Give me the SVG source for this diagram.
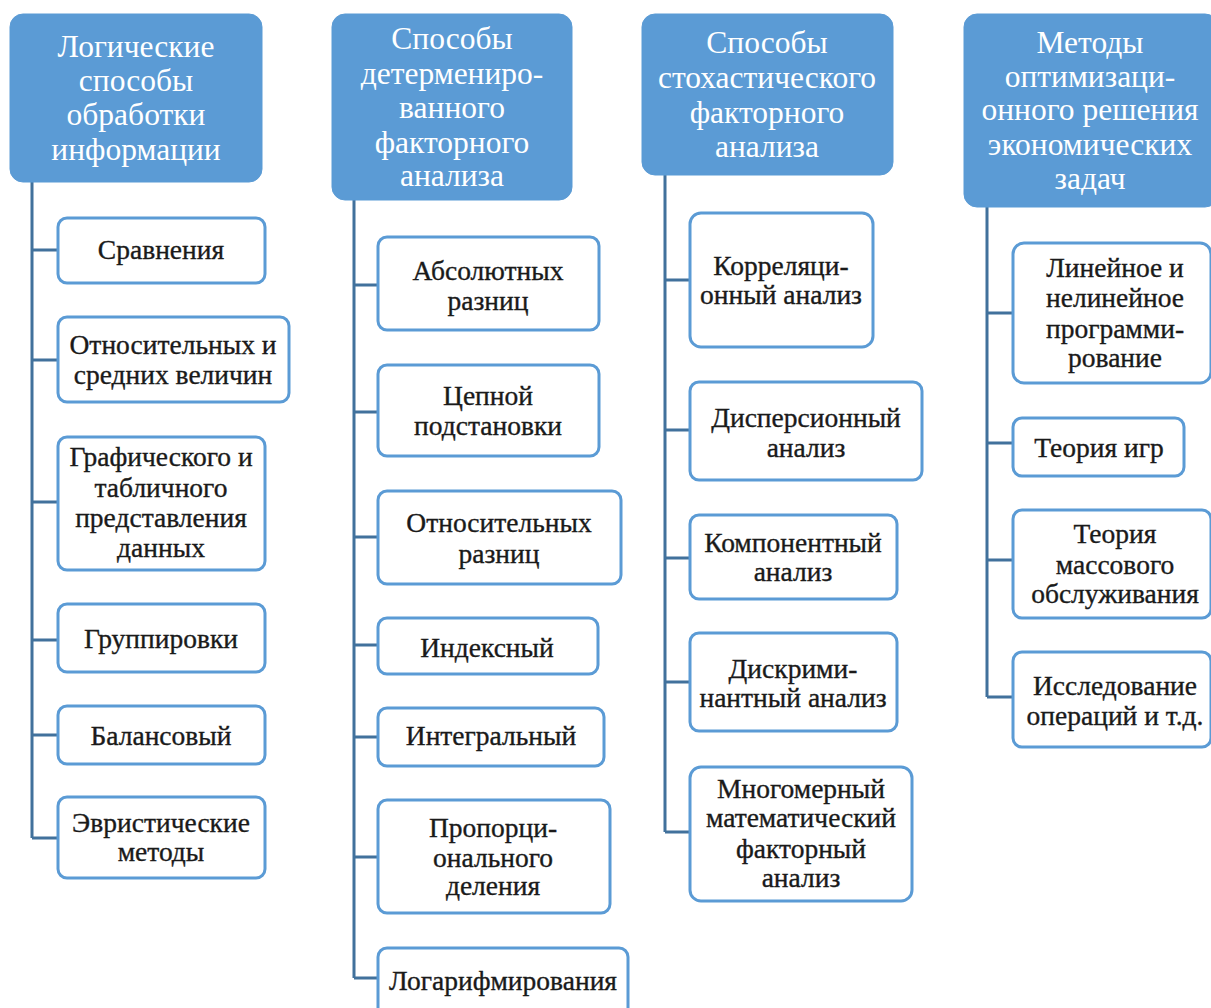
<svg xmlns="http://www.w3.org/2000/svg" width="1211" height="1008" viewBox="0 0 1211 1008">
<style>
.hdr{fill:#5b9bd5;stroke:#5b9bd5;stroke-width:1}
.ht{font-family:"Liberation Serif",serif;font-size:31.5px;fill:#ffffff;text-anchor:middle}
.box{fill:#ffffff;stroke:#5b9bd5;stroke-width:3}
.t{font-family:"Liberation Serif",serif;font-size:27.5px;fill:#1a1a1a;text-anchor:middle;stroke:#1a1a1a;stroke-width:0.35}
.con{fill:none;stroke:#41719c;stroke-width:3}
</style>
<rect width="1211" height="1008" fill="#ffffff"/>
<g id="connectors">
<path class="con" d="M32 182V838M32 250H58M32 360H58M32 502H58M32 640H58M32 735H58M32 838H58"/>
<path class="con" d="M354 200V978M354 285H378M354 412H378M354 537H378M354 645H378M354 737H378M354 857H378M354 978H378"/>
<path class="con" d="M665 175V832M665 280H690M665 430H690M665 558H690M665 682H690M665 832H690"/>
<path class="con" d="M987 207V697M987 313H1013M987 443H1013M987 560H1013M987 697H1013"/>
</g>
<g id="h1"><rect class="hdr" x="10" y="14" width="252" height="168" rx="13"/>
<text class="ht" x="136" y="57">Логические</text><text class="ht" x="136" y="91">способы</text><text class="ht" x="136" y="125">обработки</text><text class="ht" x="136" y="160">информации</text></g>
<g id="h2"><rect class="hdr" x="332" y="14" width="240" height="186" rx="13"/>
<text class="ht" x="452" y="49">Способы</text><text class="ht" x="452" y="84">детермениро-</text><text class="ht" x="452" y="118">ванного</text><text class="ht" x="452" y="153">факторного</text><text class="ht" x="452" y="186">анализа</text></g>
<g id="h3"><rect class="hdr" x="642" y="14" width="251" height="161" rx="13"/>
<text class="ht" x="767" y="53">Способы</text><text class="ht" x="767" y="88">стохастического</text><text class="ht" x="767" y="123">факторного</text><text class="ht" x="767" y="157">анализа</text></g>
<g id="h4"><rect class="hdr" x="964" y="14" width="254" height="193" rx="13"/>
<text class="ht" x="1090" y="53">Методы</text><text class="ht" x="1090" y="87">оптимизаци-</text><text class="ht" x="1090" y="120">онного решения</text><text class="ht" x="1090" y="155">экономических</text><text class="ht" x="1090" y="189">задач</text></g>

<g id="c1-1"><rect class="box" x="58" y="218" width="207" height="65" rx="9"/><text class="t" x="161" y="259">Сравнения</text></g>
<g id="c1-2"><rect class="box" x="58" y="317" width="231" height="85" rx="9"/><text class="t" x="173" y="354">Относительных и</text><text class="t" x="173" y="384">средних величин</text></g>
<g id="c1-3"><rect class="box" x="58" y="437" width="207" height="133" rx="9"/><text class="t" x="161" y="466">Графического и</text><text class="t" x="161" y="497">табличного</text><text class="t" x="161" y="527">представления</text><text class="t" x="161" y="557">данных</text></g>
<g id="c1-4"><rect class="box" x="58" y="604" width="207" height="68" rx="9"/><text class="t" x="161" y="648">Группировки</text></g>
<g id="c1-5"><rect class="box" x="58" y="706" width="207" height="58" rx="9"/><text class="t" x="161" y="745">Балансовый</text></g>
<g id="c1-6"><rect class="box" x="58" y="797" width="207" height="81" rx="9"/><text class="t" x="161" y="832">Эвристические</text><text class="t" x="161" y="861">методы</text></g>

<g id="c2-1"><rect class="box" x="378" y="237" width="221" height="93" rx="9"/><text class="t" x="488" y="280">Абсолютных</text><text class="t" x="488" y="310">разниц</text></g>
<g id="c2-2"><rect class="box" x="378" y="365" width="221" height="91" rx="9"/><text class="t" x="488" y="405">Цепной</text><text class="t" x="488" y="435">подстановки</text></g>
<g id="c2-3"><rect class="box" x="378" y="491" width="243" height="93" rx="9"/><text class="t" x="499" y="532">Относительных</text><text class="t" x="499" y="563">разниц</text></g>
<g id="c2-4"><rect class="box" x="378" y="618" width="220" height="56" rx="9"/><text class="t" x="487" y="657">Индексный</text></g>
<g id="c2-5"><rect class="box" x="378" y="708" width="226" height="58" rx="9"/><text class="t" x="491" y="745">Интегральный</text></g>
<g id="c2-6"><rect class="box" x="378" y="800" width="232" height="113" rx="9"/><text class="t" x="493" y="837">Пропорци-</text><text class="t" x="493" y="867">онального</text><text class="t" x="493" y="895">деления</text></g>
<g id="c2-7"><rect class="box" x="378" y="948" width="250" height="80" rx="9"/><text class="t" x="503" y="990">Логарифмирования</text></g>

<g id="c3-1"><rect class="box" x="690" y="213" width="183" height="134" rx="11"/><text class="t" x="781" y="275">Корреляци-</text><text class="t" x="781" y="304">онный анализ</text></g>
<g id="c3-2"><rect class="box" x="690" y="382" width="232" height="98" rx="9"/><text class="t" x="806" y="427">Дисперсионный</text><text class="t" x="806" y="457">анализ</text></g>
<g id="c3-3"><rect class="box" x="690" y="515" width="207" height="84" rx="9"/><text class="t" x="793" y="552">Компонентный</text><text class="t" x="793" y="581">анализ</text></g>
<g id="c3-4"><rect class="box" x="690" y="633" width="207" height="98" rx="9"/><text class="t" x="793" y="678">Дискрими-</text><text class="t" x="793" y="707">нантный анализ</text></g>
<g id="c3-5"><rect class="box" x="690" y="767" width="222" height="134" rx="11"/><text class="t" x="801" y="798">Многомерный</text><text class="t" x="801" y="827">математический</text><text class="t" x="801" y="858">факторный</text><text class="t" x="801" y="887">анализ</text></g>

<g id="c4-1"><rect class="box" x="1013" y="243" width="198" height="140" rx="11"/><text class="t" x="1115" y="277">Линейное и</text><text class="t" x="1115" y="307">нелинейное</text><text class="t" x="1115" y="338">программи-</text><text class="t" x="1115" y="367">рование</text></g>
<g id="c4-2"><rect class="box" x="1013" y="418" width="171" height="58" rx="9"/><text class="t" x="1099" y="457">Теория игр</text></g>
<g id="c4-3"><rect class="box" x="1013" y="510" width="198" height="108" rx="9"/><text class="t" x="1115" y="543">Теория</text><text class="t" x="1115" y="574">массового</text><text class="t" x="1115" y="603">обслуживания</text></g>
<g id="c4-4"><rect class="box" x="1013" y="652" width="198" height="95" rx="9"/><text class="t" x="1115" y="695">Исследование</text><text class="t" x="1115" y="725">операций и т.д.</text></g>
</svg>
